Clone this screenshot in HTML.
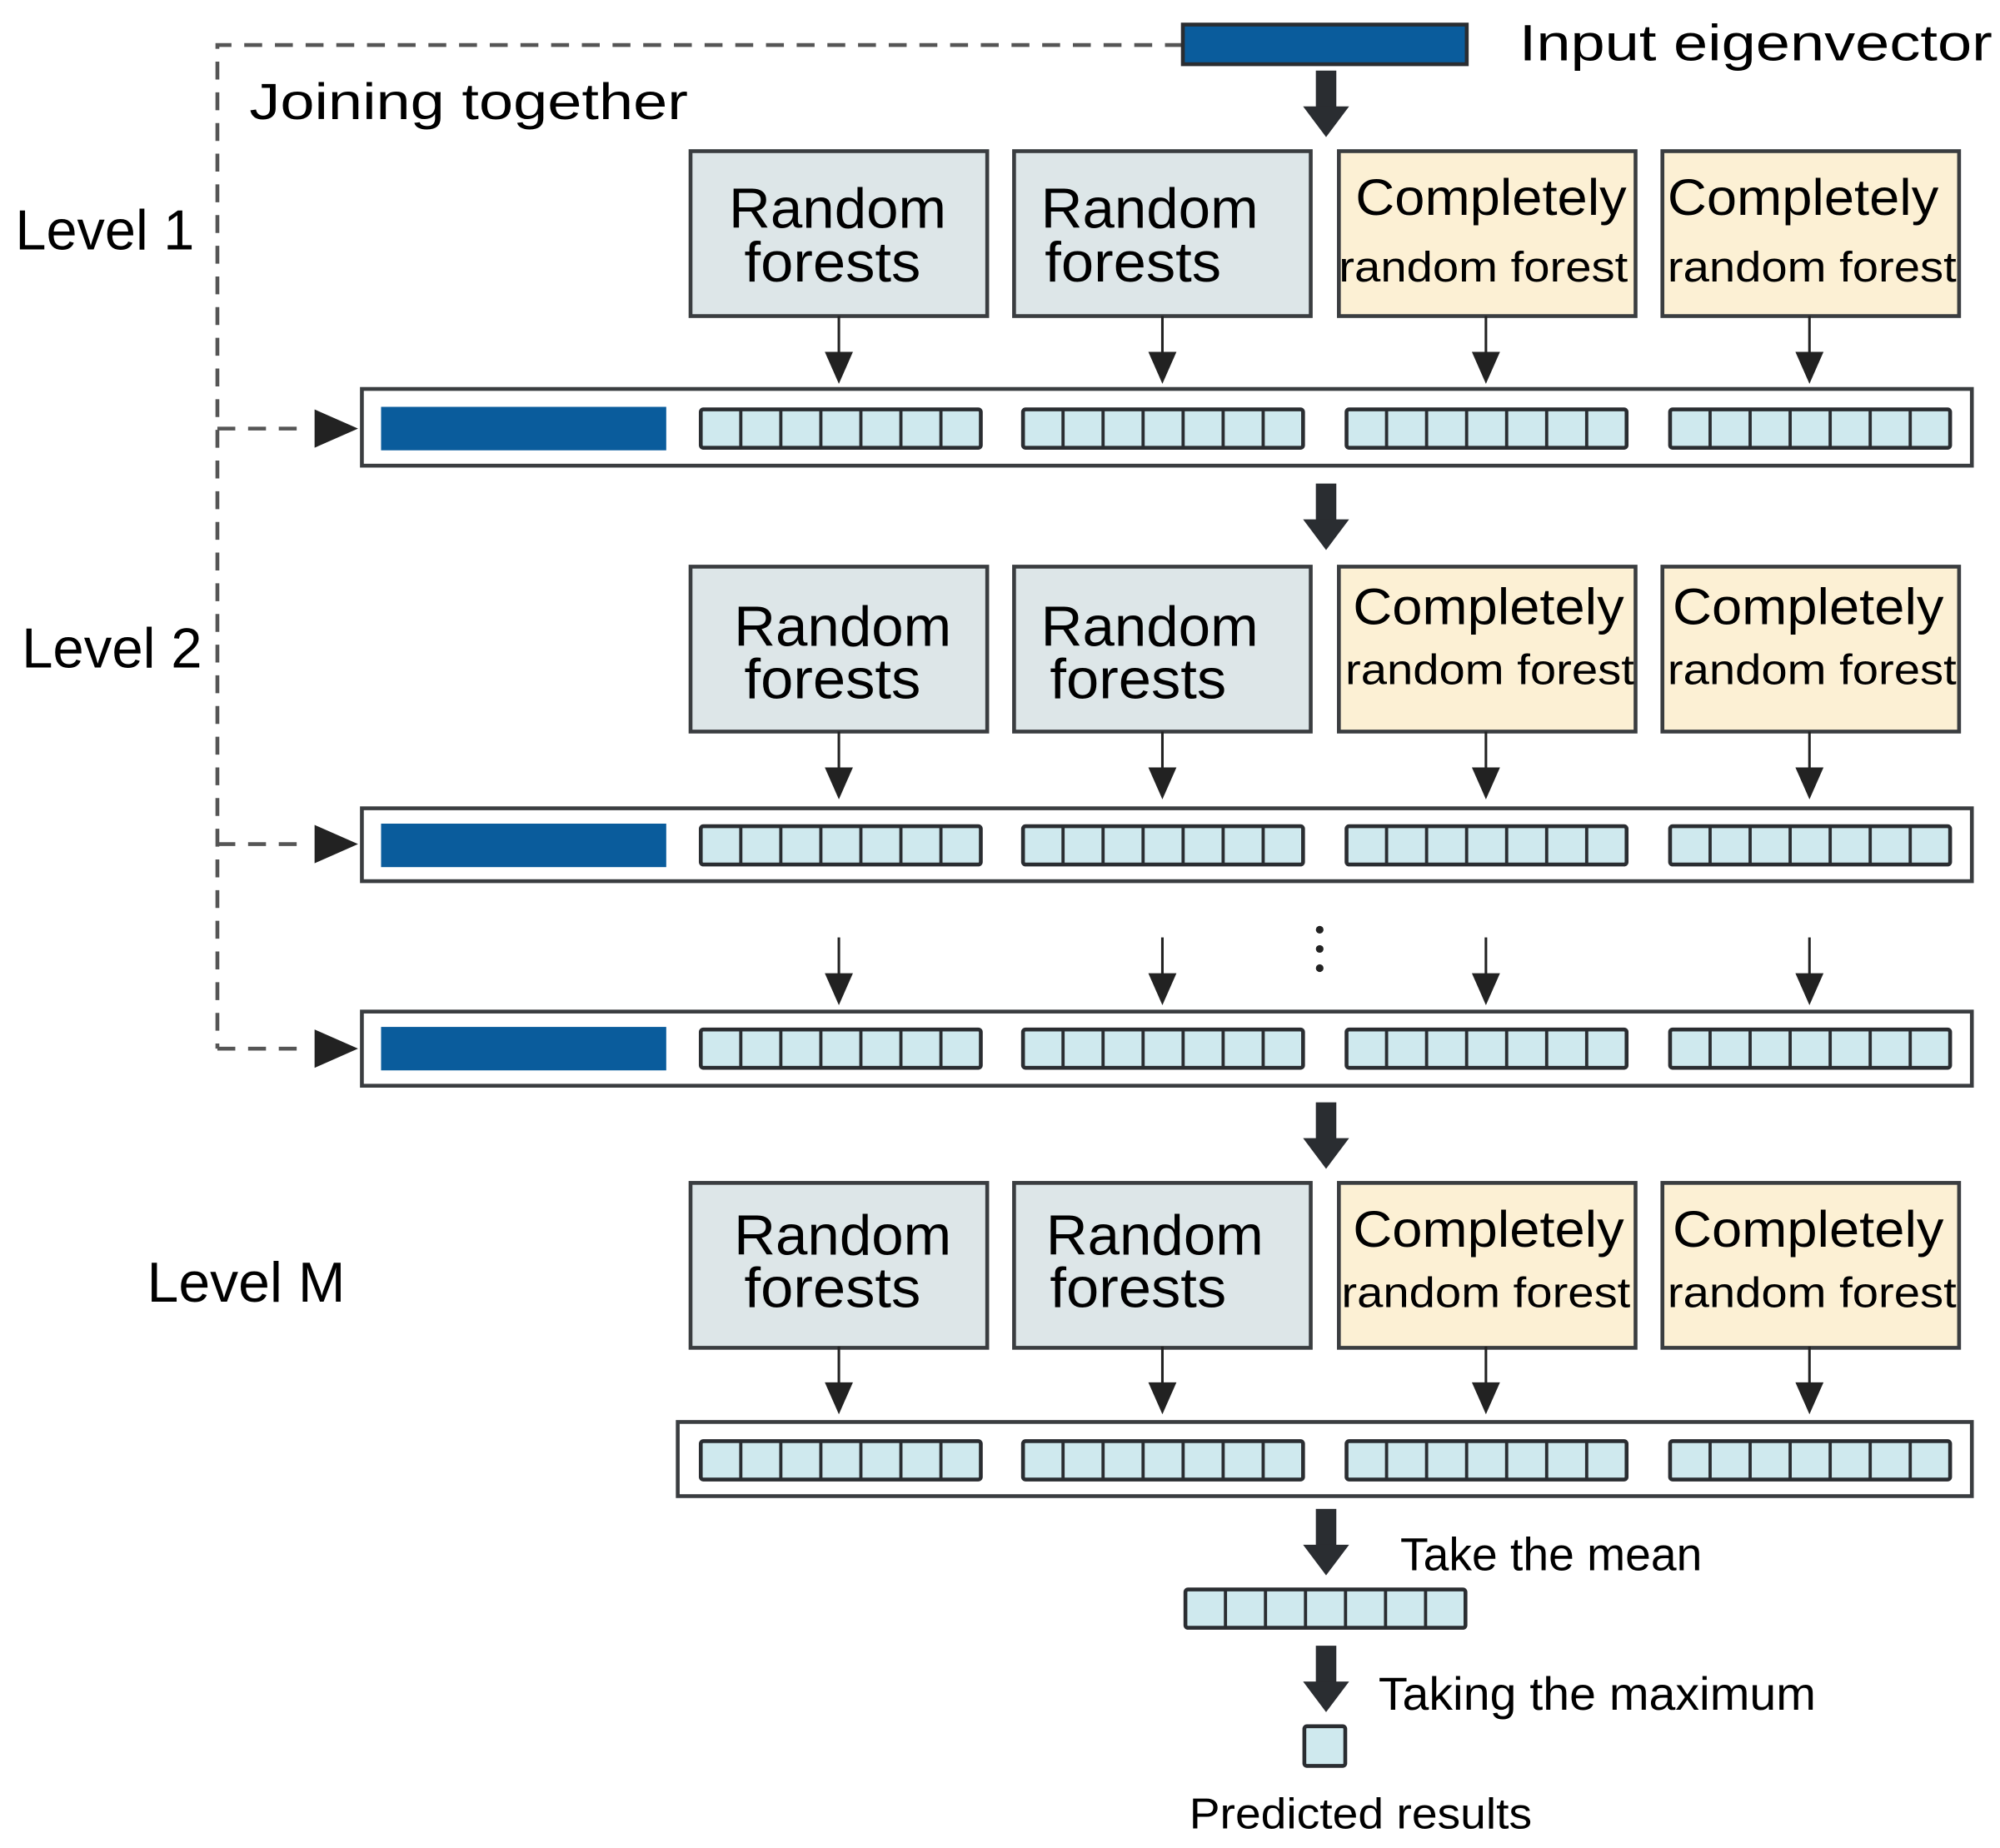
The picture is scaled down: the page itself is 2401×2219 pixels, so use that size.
<!DOCTYPE html>
<html><head><meta charset="utf-8"><style>html,body{margin:0;padding:0;background:#fff}svg{display:block}</style></head>
<body>
<svg width="2401" height="2219" viewBox="0 0 1564 1445" xmlns="http://www.w3.org/2000/svg" font-family="Liberation Sans, sans-serif">
<defs>
<g id="cells">
<rect x="0" y="0" width="219" height="30" fill="#cfe9ee" stroke="#2a2d31" stroke-width="3" rx="2"/>
<path d="M31.3 0V30M62.6 0V30M93.9 0V30M125.2 0V30M156.5 0V30M187.8 0V30" stroke="#2a2d31" stroke-width="2.5"/>
</g>
<g id="sarrow">
<line x1="0" y1="0" x2="0" y2="32" stroke="#222" stroke-width="2"/>
<polygon points="-11,28 11,28 0,53" fill="#222"/>
</g>
<g id="barrow">
<rect x="-8" y="0" width="16" height="30" fill="#2a2d31"/>
<polygon points="-18,28 18,28 0,52" fill="#2a2d31"/>
</g>
<g id="dash">
<line x1="170" y1="0" x2="232" y2="0" stroke="#555" stroke-width="3" stroke-dasharray="14,10"/>
<polygon points="246,-15 246,15 280,0" fill="#222"/>
</g>
<g id="gb"><rect x="0" y="0" width="232" height="129" fill="#dde6e8" stroke="#3a3d40" stroke-width="3"/></g>
<g id="yb"><rect x="0" y="0" width="232" height="129" fill="#fcf0d4" stroke="#3a3d40" stroke-width="3"/></g>
</defs>

<!-- dashed joining line -->
<path d="M925 35H170V820" fill="none" stroke="#555" stroke-width="3" stroke-dasharray="14,10"/>
<rect x="925" y="19" width="222" height="31" fill="#0a5c9c" stroke="#2a2d31" stroke-width="3"/>
<text x="1188" y="47" font-size="40" textLength="370" lengthAdjust="spacingAndGlyphs">Input eigenvector</text>
<text x="195" y="93" font-size="40" textLength="343" lengthAdjust="spacingAndGlyphs">Joining together</text>
<use href="#barrow" x="1037" y="55"/>

<text x="12" y="195" font-size="44" textLength="140" lengthAdjust="spacingAndGlyphs">Level 1</text>
<text x="17" y="522" font-size="44" textLength="141" lengthAdjust="spacingAndGlyphs">Level 2</text>
<text x="115" y="1018" font-size="44" textLength="155" lengthAdjust="spacingAndGlyphs">Level M</text>

<!-- Level 1 boxes -->
<g>
<use href="#gb" x="540" y="118"/><use href="#gb" x="793" y="118"/><use href="#yb" x="1047" y="118"/><use href="#yb" x="1300" y="118"/>
<text x="570" y="178" font-size="44" textLength="170" lengthAdjust="spacingAndGlyphs">Random</text>
<text x="582" y="220" font-size="44" textLength="138" lengthAdjust="spacingAndGlyphs">forests</text>
<text x="814" y="178" font-size="44" textLength="170" lengthAdjust="spacingAndGlyphs">Random</text>
<text x="817" y="220" font-size="44" textLength="138" lengthAdjust="spacingAndGlyphs">forests</text>
<text x="1060" y="168" font-size="40" textLength="212" lengthAdjust="spacingAndGlyphs">Completely</text>
<text x="1047" y="220" font-size="33" textLength="226" lengthAdjust="spacingAndGlyphs">random forest</text>
<text x="1304" y="168" font-size="40" textLength="212" lengthAdjust="spacingAndGlyphs">Completely</text>
<text x="1304" y="220" font-size="33" textLength="226" lengthAdjust="spacingAndGlyphs">random forest</text>
</g>
<use href="#sarrow" x="656" y="247"/><use href="#sarrow" x="909" y="247"/><use href="#sarrow" x="1162" y="247"/><use href="#sarrow" x="1415" y="247"/>
<!-- bar 1 -->
<rect x="283" y="304" width="1259" height="60" fill="#fff" stroke="#3a3d40" stroke-width="3"/>
<rect x="298" y="318" width="223" height="34" fill="#0a5c9c"/>
<use href="#cells" x="548" y="320"/><use href="#cells" x="800" y="320"/><use href="#cells" x="1053" y="320"/><use href="#cells" x="1306" y="320"/>
<use href="#dash" y="335"/>
<use href="#barrow" x="1037" y="378"/>

<!-- Level 2 boxes -->
<g>
<use href="#gb" x="540" y="443"/><use href="#gb" x="793" y="443"/><use href="#yb" x="1047" y="443"/><use href="#yb" x="1300" y="443"/>
<text x="574" y="505" font-size="44" textLength="170" lengthAdjust="spacingAndGlyphs">Random</text>
<text x="582" y="546" font-size="44" textLength="138" lengthAdjust="spacingAndGlyphs">forests</text>
<text x="814" y="505" font-size="44" textLength="170" lengthAdjust="spacingAndGlyphs">Random</text>
<text x="821" y="546" font-size="44" textLength="138" lengthAdjust="spacingAndGlyphs">forests</text>
<text x="1058" y="488" font-size="40" textLength="212" lengthAdjust="spacingAndGlyphs">Completely</text>
<text x="1052" y="535" font-size="33" textLength="226" lengthAdjust="spacingAndGlyphs">random forest</text>
<text x="1308" y="488" font-size="40" textLength="212" lengthAdjust="spacingAndGlyphs">Completely</text>
<text x="1304" y="535" font-size="33" textLength="226" lengthAdjust="spacingAndGlyphs">random forest</text>
</g>
<use href="#sarrow" x="656" y="572"/><use href="#sarrow" x="909" y="572"/><use href="#sarrow" x="1162" y="572"/><use href="#sarrow" x="1415" y="572"/>
<rect x="283" y="632" width="1259" height="57" fill="#fff" stroke="#3a3d40" stroke-width="3"/>
<rect x="298" y="644" width="223" height="34" fill="#0a5c9c"/>
<use href="#cells" x="548" y="646"/><use href="#cells" x="800" y="646"/><use href="#cells" x="1053" y="646"/><use href="#cells" x="1306" y="646"/>
<use href="#dash" y="660"/>

<!-- dots & arrows -->
<circle cx="1032" cy="727" r="3" fill="#222"/><circle cx="1032" cy="742" r="3" fill="#222"/><circle cx="1032" cy="757" r="3" fill="#222"/>
<use href="#sarrow" x="656" y="733"/><use href="#sarrow" x="909" y="733"/><use href="#sarrow" x="1162" y="733"/><use href="#sarrow" x="1415" y="733"/>
<rect x="283" y="791" width="1259" height="58" fill="#fff" stroke="#3a3d40" stroke-width="3"/>
<rect x="298" y="803" width="223" height="34" fill="#0a5c9c"/>
<use href="#cells" x="548" y="805"/><use href="#cells" x="800" y="805"/><use href="#cells" x="1053" y="805"/><use href="#cells" x="1306" y="805"/>
<use href="#dash" y="820"/>
<use href="#barrow" x="1037" y="862"/>

<!-- Level M boxes -->
<g>
<use href="#gb" x="540" y="925"/><use href="#gb" x="793" y="925"/><use href="#yb" x="1047" y="925"/><use href="#yb" x="1300" y="925"/>
<text x="574" y="981" font-size="44" textLength="170" lengthAdjust="spacingAndGlyphs">Random</text>
<text x="582" y="1022" font-size="44" textLength="138" lengthAdjust="spacingAndGlyphs">forests</text>
<text x="818" y="981" font-size="44" textLength="170" lengthAdjust="spacingAndGlyphs">Random</text>
<text x="821" y="1022" font-size="44" textLength="138" lengthAdjust="spacingAndGlyphs">forests</text>
<text x="1058" y="975" font-size="40" textLength="212" lengthAdjust="spacingAndGlyphs">Completely</text>
<text x="1049" y="1022" font-size="33" textLength="226" lengthAdjust="spacingAndGlyphs">random forest</text>
<text x="1308" y="975" font-size="40" textLength="212" lengthAdjust="spacingAndGlyphs">Completely</text>
<text x="1304" y="1022" font-size="33" textLength="226" lengthAdjust="spacingAndGlyphs">random forest</text>
</g>
<use href="#sarrow" x="656" y="1053"/><use href="#sarrow" x="909" y="1053"/><use href="#sarrow" x="1162" y="1053"/><use href="#sarrow" x="1415" y="1053"/>
<rect x="530" y="1112" width="1012" height="58" fill="#fff" stroke="#3a3d40" stroke-width="3"/>
<use href="#cells" x="548" y="1127"/><use href="#cells" x="800" y="1127"/><use href="#cells" x="1053" y="1127"/><use href="#cells" x="1306" y="1127"/>

<use href="#barrow" x="1037" y="1180"/>
<text x="1095" y="1228" font-size="36" textLength="236" lengthAdjust="spacingAndGlyphs">Take the mean</text>
<use href="#cells" x="927" y="1243"/>
<use href="#barrow" x="1037" y="1287"/>
<text x="1078" y="1337" font-size="36" textLength="342" lengthAdjust="spacingAndGlyphs">Taking the maximum</text>
<rect x="1020" y="1350" width="32" height="31" fill="#cfe9ee" stroke="#2a2d31" stroke-width="3" rx="2"/>
<text x="930" y="1430" font-size="34" textLength="268" lengthAdjust="spacingAndGlyphs">Predicted results</text>
</svg>
</body></html>
